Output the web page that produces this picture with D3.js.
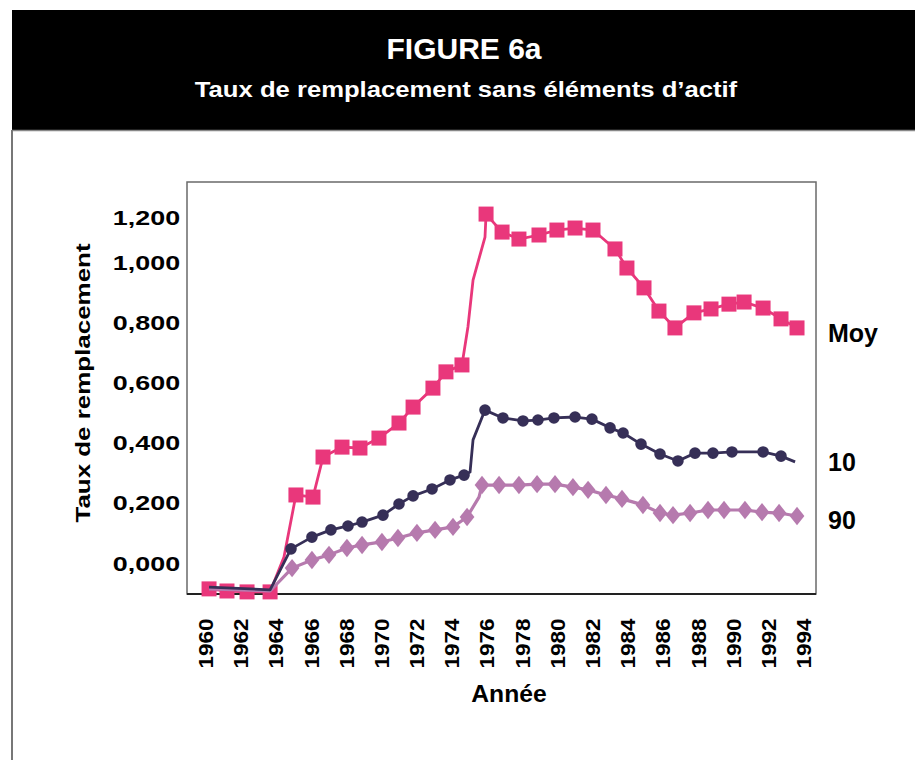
<!DOCTYPE html>
<html><head><meta charset="utf-8">
<script src="https://cdn.jsdelivr.net/npm/d3@7"></script>
<style>
body{margin:0;background:#fff}
svg{display:block}
text{font-family:"Liberation Sans",Arial,Helvetica,sans-serif;font-weight:bold;fill:#000}
</style>
</head><body><svg id="c" width="915" height="760"></svg>
<script>
// ---------- text ----------
const titleText = "FIGURE 6a";
const subtitleText = "Taux de remplacement sans éléments d’actif";
const yTitleText = "Taux de remplacement";
const xTitleText = "Année";
const seriesNames = ["Moy", "10", "90"];

// ---------- ticks ----------
const xTicks = [1960,1962,1964,1966,1968,1970,1972,1974,1976,1978,1980,1982,1984,1986,1988,1990,1992,1994];
const yTicks = [0, 0.2, 0.4, 0.6, 0.8, 1.0, 1.2];
const yTickLabels = ["0,000","0,200","0,400","0,600","0,800","1,000","1,200"];

// ---------- series "Moy" (markers) ----------
const moyYears  = [1960.23,1961.25,1962.39,1963.70,1965.17,1966.14,1966.71,1967.79,1968.81,1969.89,1971.03,1971.83,1972.96,1973.70,1974.61,1975.98,1976.89,1977.85,1978.99,1980.01,1981.04,1982.06,1983.31,1983.99,1984.96,1985.81,1986.72,1987.80,1988.77,1989.79,1990.65,1991.73,1992.75,1993.66];
const moyValues = [-0.086,-0.093,-0.096,-0.096,0.226,0.219,0.352,0.385,0.382,0.415,0.465,0.518,0.581,0.635,0.658,1.213,1.133,1.102,1.120,1.142,1.151,1.142,1.058,0.980,0.914,0.837,0.781,0.831,0.844,0.860,0.867,0.847,0.811,0.781];
// unmarked line vertices
const moyBendYears  = [1964.49,1974.95,1975.24,1975.92];
const moyBendValues = [0.020,0.784,0.940,1.111];

// ---------- series "10" ----------
const p10Years  = [1964.89,1966.08,1967.16,1968.13,1968.93,1970.12,1971.03,1971.83,1972.91,1973.93,1974.73,1975.92,1976.94,1978.08,1978.93,1979.84,1981.04,1982.00,1983.03,1983.77,1984.79,1985.87,1986.89,1987.86,1988.88,1989.96,1991.73,1992.75];
const p10Values = [0.047,0.086,0.110,0.123,0.136,0.159,0.196,0.223,0.246,0.276,0.292,0.508,0.482,0.472,0.475,0.482,0.485,0.478,0.449,0.432,0.395,0.362,0.339,0.365,0.365,0.369,0.369,0.355];
const p10BendYears  = [1960.23,1963.70,1975.07,1975.24,1993.55];
const p10BendValues = [-0.080,-0.089,0.302,0.409,0.336];

// ---------- series "90" ----------
const p90Years  = [1964.95,1966.08,1967.05,1968.07,1968.93,1970.06,1970.97,1972.05,1973.08,1974.10,1974.90,1975.75,1976.72,1977.85,1978.88,1979.90,1980.92,1981.78,1982.80,1983.71,1984.90,1985.87,1986.61,1987.58,1988.60,1989.51,1990.70,1991.67,1992.64,1993.66];
const p90Values = [-0.017,0.010,0.027,0.050,0.060,0.070,0.083,0.100,0.110,0.120,0.153,0.259,0.259,0.259,0.262,0.262,0.252,0.243,0.226,0.213,0.193,0.166,0.159,0.166,0.176,0.176,0.176,0.169,0.166,0.156];
const p90BendYears  = [1960.23,1963.70,1975.58];
const p90BendValues = [-0.086,-0.093,0.219];

// ---------- layout ----------
const svg = d3.select("#c");
const frame = {left:187, top:182, right:816, bottom:594};

const x = d3.scaleLinear().domain([1960, 1994]).range([205, 803]);
const y = d3.scaleLinear().domain([0, 1.0, 1.2]).range([563, 262, 217]);

// header
svg.append("rect").attr("x",12).attr("y",10).attr("width",903).attr("height",120).attr("fill","#000");
svg.append("line").attr("x1",12).attr("x2",915).attr("y1",130.5).attr("y2",130.5).attr("stroke","#888").attr("stroke-width",1.5);
svg.append("line").attr("x1",12).attr("x2",12).attr("y1",130).attr("y2",760).attr("stroke","#777").attr("stroke-width",2);

function stretchedText(g, str, tx, ty, size, sx, anchor, rot){
  return g.append("text")
    .attr("transform", `translate(${tx},${ty})${rot?` rotate(${rot})`:""} scale(${sx},1)`)
    .attr("text-anchor", anchor)
    .style("font-size", size+"px")
    .text(str);
}
stretchedText(svg, titleText, 464, 59, 30, 1.0, "middle").style("fill","#fff");
stretchedText(svg, subtitleText, 466, 97, 22.5, 1.14, "middle").style("fill","#fff");

// plot frame
svg.append("rect").attr("x",frame.left).attr("y",frame.top)
  .attr("width",frame.right-frame.left).attr("height",frame.bottom-frame.top)
  .attr("fill","none").attr("stroke","#6a6a6a").attr("stroke-width",1.5);
svg.append("line").attr("x1",frame.left).attr("x2",frame.right).attr("y1",frame.bottom).attr("y2",frame.bottom)
  .attr("stroke","#222").attr("stroke-width",2);

// y axis
const yAxis = d3.axisLeft(y).tickValues(yTicks).tickSize(0).tickPadding(5)
  .tickFormat((d,i)=>yTickLabels[i]);
const yg = svg.append("g").attr("transform",`translate(${frame.left},0)`).call(yAxis);
yg.select(".domain").remove();
yg.selectAll("text")
  .attr("font-family",null).attr("font-size",null)
  .style("font-size","19.5px")
  .attr("transform","scale(1.38,1)")
  .attr("dy","0.36em");

// x axis
const xAxis = d3.axisBottom(x).tickValues(xTicks).tickSize(0).tickFormat(d3.format("d"));
const xg = svg.append("g").attr("transform",`translate(0,${frame.bottom})`).call(xAxis);
xg.select(".domain").remove();
xg.selectAll("text")
  .attr("font-family",null).attr("font-size",null)
  .style("font-size","21px")
  .attr("text-anchor","end")
  .attr("y",0).attr("x",-23)
  .attr("dy","0.36em")
  .attr("transform","rotate(-90) scale(1.07,1)");

// axis titles
stretchedText(svg, yTitleText, 89.5, 383, 19.5, 1.33, "middle", -90);
stretchedText(svg, xTitleText, 509, 702, 23.5, 1.05, "middle");

// ---------- series ----------
function merge(ty, tv, by, bv){
  const pts = ty.map((t,i)=>[t, tv[i]]).concat(by.map((t,i)=>[t, bv[i]]));
  return pts.sort((a,b)=>a[0]-b[0]);
}
const line = d3.line().x(d=>x(d[0])).y(d=>y(d[1]));

const diamond = {draw(ctx, size){ const h = Math.sqrt(size)/2; const w = h*0.8;
  ctx.moveTo(0,-h); ctx.lineTo(w,0); ctx.lineTo(0,h); ctx.lineTo(-w,0); ctx.closePath(); }};

const series = [
  {name:seriesNames[0], years:moyYears, values:moyValues, by:moyBendYears, bv:moyBendValues, color:"#e9377b", width:2.8, sym:d3.symbolSquare, size:225},
  {name:seriesNames[2], years:p90Years, values:p90Values, by:p90BendYears, bv:p90BendValues, color:"#b67aae", width:3.2, sym:diamond, size:340},
  {name:seriesNames[1], years:p10Years, values:p10Values, by:p10BendYears, bv:p10BendValues, color:"#362f57", width:2.8, sym:d3.symbolCircle, size:105}
];
series.forEach(s=>{
  const g = svg.append("g");
  g.append("path").datum(merge(s.years, s.values, s.by, s.bv))
    .attr("d", line).attr("fill","none").attr("stroke", s.color)
    .attr("stroke-width", s.width).attr("stroke-linejoin","round");
  g.selectAll("path.m").data(s.years.map((t,i)=>[t, s.values[i]])).join("path")
    .attr("class","m")
    .attr("transform", d=>`translate(${x(d[0])},${y(d[1])})`)
    .attr("d", d3.symbol().type(s.sym).size(s.size)())
    .attr("fill", s.color);
});

// series labels (placed beside the right edge of the frame)
const labelValues = [0.733, 0.305, 0.114];
seriesNames.forEach((n,i)=>{
  svg.append("text").attr("x",828).attr("y",y(labelValues[i]))
    .style("font-size","25px").text(n);
});
</script>
</body></html>
